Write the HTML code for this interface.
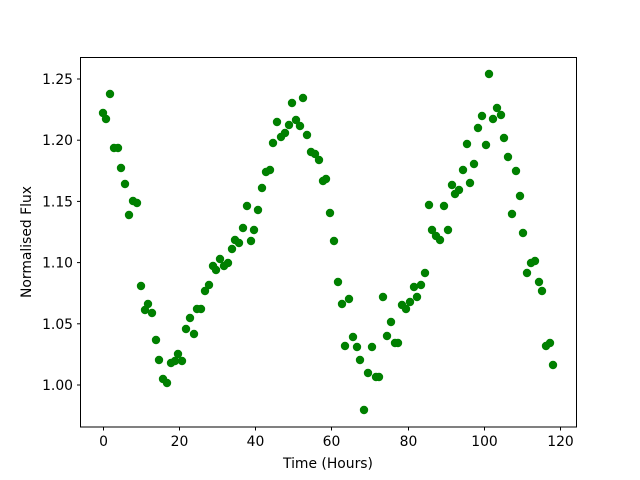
<!DOCTYPE html>
<html><head><meta charset="utf-8"><style>body{margin:0;background:#fff}svg{display:block}text{font-family:"DejaVu Sans","Liberation Sans",sans-serif;font-size:13.9px;fill:#000}</style></head>
<body>
<svg width="640" height="480" xmlns="http://www.w3.org/2000/svg">
<rect width="640" height="480" fill="#fff"/>
<rect x="80.5" y="57.5" width="496" height="369.5" fill="none" stroke="#000" stroke-width="1"/>
<g stroke="#000" stroke-width="1">
<line x1="103.5" y1="427" x2="103.5" y2="430.5"/><line x1="179.5" y1="427" x2="179.5" y2="430.5"/><line x1="255.5" y1="427" x2="255.5" y2="430.5"/><line x1="331.5" y1="427" x2="331.5" y2="430.5"/><line x1="408.5" y1="427" x2="408.5" y2="430.5"/><line x1="484.5" y1="427" x2="484.5" y2="430.5"/><line x1="560.5" y1="427" x2="560.5" y2="430.5"/>
<line x1="77" y1="385" x2="80.5" y2="385"/><line x1="77" y1="323.8" x2="80.5" y2="323.8"/><line x1="77" y1="262.6" x2="80.5" y2="262.6"/><line x1="77" y1="201.4" x2="80.5" y2="201.4"/><line x1="77" y1="140.2" x2="80.5" y2="140.2"/><line x1="77" y1="79" x2="80.5" y2="79"/>
</g>
<g text-anchor="middle">
<text x="103.5" y="446">0</text><text x="179.5" y="446">20</text><text x="255.5" y="446">40</text><text x="331.5" y="446">60</text><text x="408.5" y="446">80</text><text x="484.5" y="446">100</text><text x="560.5" y="446">120</text>
<text x="328" y="468">Time (Hours)</text>
<text transform="translate(31,242) rotate(-90)">Normalised Flux</text>
</g>
<g text-anchor="end">
<text x="73" y="390">1.00</text><text x="73" y="328.8">1.05</text><text x="73" y="267.6">1.10</text><text x="73" y="206.4">1.15</text><text x="73" y="145.2">1.20</text><text x="73" y="84">1.25</text>
</g>
<g fill="#008000">
<circle cx="103" cy="113" r="4.2"/><circle cx="106" cy="119" r="4.2"/><circle cx="110" cy="94" r="4.2"/><circle cx="114" cy="148" r="4.2"/><circle cx="118" cy="148" r="4.2"/><circle cx="121" cy="168" r="4.2"/><circle cx="125" cy="184" r="4.2"/><circle cx="129" cy="215" r="4.2"/><circle cx="133" cy="201" r="4.2"/><circle cx="137" cy="203" r="4.2"/>
<circle cx="141" cy="286" r="4.2"/><circle cx="145" cy="310" r="4.2"/><circle cx="148" cy="304" r="4.2"/><circle cx="152" cy="313" r="4.2"/><circle cx="156" cy="340" r="4.2"/><circle cx="159" cy="360" r="4.2"/><circle cx="163" cy="379" r="4.2"/><circle cx="167" cy="383" r="4.2"/><circle cx="171" cy="363" r="4.2"/><circle cx="175" cy="361" r="4.2"/>
<circle cx="178" cy="354" r="4.2"/><circle cx="182" cy="361" r="4.2"/><circle cx="186" cy="329" r="4.2"/><circle cx="190" cy="318" r="4.2"/><circle cx="194" cy="334" r="4.2"/><circle cx="197" cy="309" r="4.2"/><circle cx="201" cy="309" r="4.2"/><circle cx="205" cy="291" r="4.2"/><circle cx="209" cy="285" r="4.2"/><circle cx="213" cy="266" r="4.2"/>
<circle cx="216" cy="270" r="4.2"/><circle cx="220" cy="259" r="4.2"/><circle cx="224" cy="266" r="4.2"/><circle cx="228" cy="263" r="4.2"/><circle cx="232" cy="249" r="4.2"/><circle cx="235" cy="240" r="4.2"/><circle cx="239" cy="243" r="4.2"/><circle cx="243" cy="228" r="4.2"/><circle cx="247" cy="206" r="4.2"/><circle cx="251" cy="241" r="4.2"/>
<circle cx="254" cy="230" r="4.2"/><circle cx="258" cy="210" r="4.2"/><circle cx="262" cy="188" r="4.2"/><circle cx="266" cy="172" r="4.2"/><circle cx="270" cy="170" r="4.2"/><circle cx="273" cy="143" r="4.2"/><circle cx="277" cy="122" r="4.2"/><circle cx="281" cy="137" r="4.2"/><circle cx="285" cy="133" r="4.2"/><circle cx="289" cy="125" r="4.2"/>
<circle cx="292" cy="103" r="4.2"/><circle cx="296" cy="120" r="4.2"/><circle cx="300" cy="126" r="4.2"/><circle cx="303" cy="98" r="4.2"/><circle cx="307" cy="135" r="4.2"/><circle cx="311" cy="152" r="4.2"/><circle cx="315" cy="154" r="4.2"/><circle cx="319" cy="160" r="4.2"/><circle cx="323" cy="181" r="4.2"/><circle cx="326" cy="179" r="4.2"/>
<circle cx="330" cy="213" r="4.2"/><circle cx="334" cy="241" r="4.2"/><circle cx="338" cy="282" r="4.2"/><circle cx="342" cy="304" r="4.2"/><circle cx="345" cy="346" r="4.2"/><circle cx="349" cy="299" r="4.2"/><circle cx="353" cy="337" r="4.2"/><circle cx="357" cy="347" r="4.2"/><circle cx="360" cy="360" r="4.2"/><circle cx="364" cy="410" r="4.2"/>
<circle cx="368" cy="373" r="4.2"/><circle cx="372" cy="347" r="4.2"/><circle cx="376" cy="377" r="4.2"/><circle cx="379" cy="377" r="4.2"/><circle cx="383" cy="297" r="4.2"/><circle cx="387" cy="336" r="4.2"/><circle cx="391" cy="322" r="4.2"/><circle cx="395" cy="343" r="4.2"/><circle cx="398" cy="343" r="4.2"/><circle cx="402" cy="305" r="4.2"/>
<circle cx="406" cy="309" r="4.2"/><circle cx="410" cy="302" r="4.2"/><circle cx="414" cy="287" r="4.2"/><circle cx="417" cy="297" r="4.2"/><circle cx="421" cy="285" r="4.2"/><circle cx="425" cy="273" r="4.2"/><circle cx="429" cy="205" r="4.2"/><circle cx="432" cy="230" r="4.2"/><circle cx="436" cy="236" r="4.2"/><circle cx="440" cy="240" r="4.2"/>
<circle cx="444" cy="206" r="4.2"/><circle cx="448" cy="230" r="4.2"/><circle cx="452" cy="185" r="4.2"/><circle cx="455" cy="194" r="4.2"/><circle cx="459" cy="190" r="4.2"/><circle cx="463" cy="170" r="4.2"/><circle cx="467" cy="144" r="4.2"/><circle cx="470" cy="183" r="4.2"/><circle cx="474" cy="164" r="4.2"/><circle cx="478" cy="128" r="4.2"/>
<circle cx="482" cy="116" r="4.2"/><circle cx="486" cy="145" r="4.2"/><circle cx="489" cy="74" r="4.2"/><circle cx="493" cy="119" r="4.2"/><circle cx="497" cy="108" r="4.2"/><circle cx="501" cy="115" r="4.2"/><circle cx="504" cy="138" r="4.2"/><circle cx="508" cy="157" r="4.2"/><circle cx="512" cy="214" r="4.2"/><circle cx="516" cy="171" r="4.2"/>
<circle cx="520" cy="196" r="4.2"/><circle cx="523" cy="233" r="4.2"/><circle cx="527" cy="273" r="4.2"/><circle cx="531" cy="263" r="4.2"/><circle cx="535" cy="261" r="4.2"/><circle cx="539" cy="282" r="4.2"/><circle cx="542" cy="291" r="4.2"/><circle cx="546" cy="346" r="4.2"/><circle cx="550" cy="343" r="4.2"/><circle cx="553" cy="365" r="4.2"/>
</g>
</svg>
</body></html>
